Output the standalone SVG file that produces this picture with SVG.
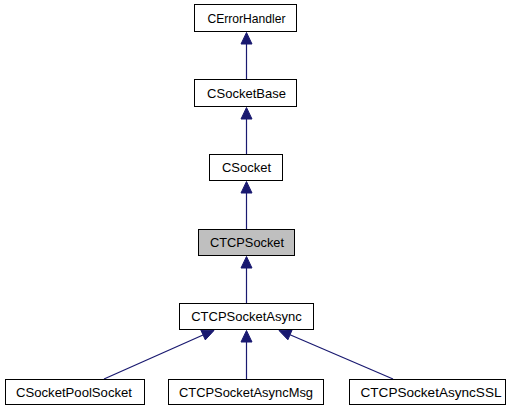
<svg xmlns="http://www.w3.org/2000/svg" width="512" height="411" viewBox="0 0 512 411">
<style>
.box{fill:#ffffff;stroke:#000000;stroke-width:1}
.cur{fill:#bfbfbf;stroke:#000000;stroke-width:1}
.lbl{font-family:"Liberation Sans",Arial,sans-serif;font-size:13px;fill:#000000;text-anchor:middle}
.edge{stroke:#191970;stroke-width:1.2;fill:none}
.head{fill:#191970;stroke:#191970;stroke-width:1}
</style>
<rect width="512" height="411" fill="#ffffff"/>
<g id="edges">
<line class="edge" x1="246.5" y1="79" x2="246.5" y2="44"/>
<polygon class="head" points="246.5,32.5 241,44 252,44"/>
<line class="edge" x1="246.5" y1="154" x2="246.5" y2="119"/>
<polygon class="head" points="246.5,107.5 241,119 252,119"/>
<line class="edge" x1="246.5" y1="229" x2="246.5" y2="193"/>
<polygon class="head" points="246.5,181.5 241,193 252,193"/>
<line class="edge" x1="246.5" y1="303" x2="246.5" y2="268"/>
<polygon class="head" points="246.5,256.5 241,268 252,268"/>
<line class="edge" x1="246.5" y1="379" x2="246.5" y2="342"/>
<polygon class="head" points="246.5,330.5 241,342 252,342"/>
<line class="edge" x1="104" y1="379" x2="203" y2="335"/>
<polygon class="head" points="214,330.5 205.3,339.9 200.8,329.9"/>
<line class="edge" x1="393" y1="379" x2="290" y2="334.7"/>
<polygon class="head" points="279,330.5 287.9,339.8 292.2,329.7"/>
</g>
<g id="CErrorHandler">
<rect class="box" x="194.5" y="4.5" width="102" height="27"/>
<text class="lbl" x="246.5" y="23" textLength="78" lengthAdjust="spacingAndGlyphs">CErrorHandler</text>
</g>
<g id="CSocketBase">
<rect class="box" x="194.5" y="79.5" width="102" height="27"/>
<text class="lbl" x="246.5" y="98">CSocketBase</text>
</g>
<g id="CSocket">
<rect class="box" x="209.5" y="154.5" width="73" height="26"/>
<text class="lbl" x="246.5" y="172" textLength="49" lengthAdjust="spacingAndGlyphs">CSocket</text>
</g>
<g id="CTCPSocket">
<rect class="cur" x="198.5" y="229.5" width="96" height="26"/>
<text class="lbl" x="247" y="247" textLength="74" lengthAdjust="spacingAndGlyphs">CTCPSocket</text>
</g>
<g id="CTCPSocketAsync">
<rect class="box" x="179.5" y="303.5" width="134" height="26"/>
<text class="lbl" x="246.5" y="321">CTCPSocketAsync</text>
</g>
<g id="CSocketPoolSocket">
<rect class="box" x="5.5" y="379.5" width="139" height="25"/>
<text class="lbl" x="74" y="397" textLength="116" lengthAdjust="spacingAndGlyphs">CSocketPoolSocket</text>
</g>
<g id="CTCPSocketAsyncMsg">
<rect class="box" x="168.5" y="379.5" width="155" height="25"/>
<text class="lbl" x="246" y="397" textLength="134" lengthAdjust="spacingAndGlyphs">CTCPSocketAsyncMsg</text>
</g>
<g id="CTCPSocketAsyncSSL">
<rect class="box" x="349.5" y="379.5" width="156" height="25"/>
<text class="lbl" x="431" y="397" textLength="141" lengthAdjust="spacingAndGlyphs">CTCPSocketAsyncSSL</text>
</g>
</svg>
